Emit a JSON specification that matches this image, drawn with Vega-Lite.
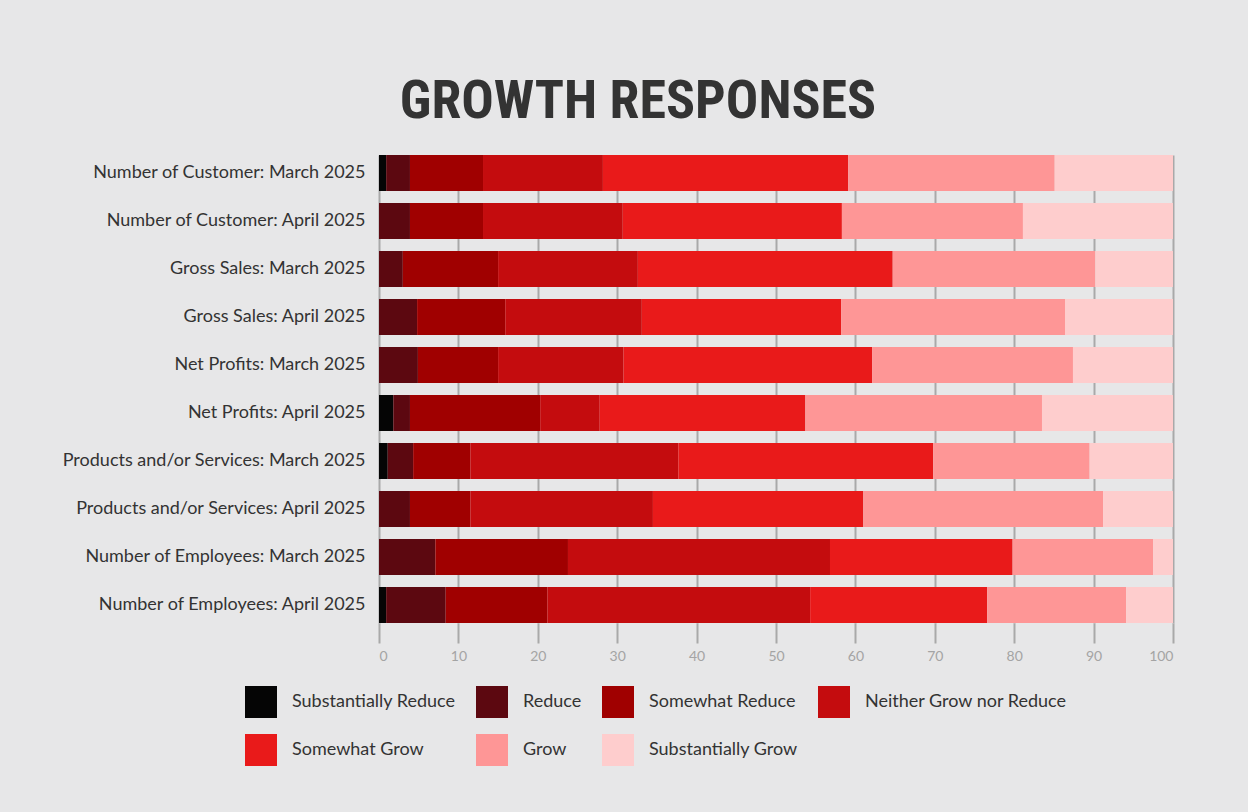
{
  "$schema": "https://vega.github.io/schema/vega-lite/v6.json",
  "autosize": {"type": "none"},
  "width": 794,
  "height": 468,
  "padding": {"left": 379, "top": 155, "right": 75, "bottom": 189},
  "background": "#e7e7e8",
  "title": {
    "text": "GROWTH RESPONSES",
    "font": "Roboto Condensed, DejaVu Sans Condensed",
    "fontWeight": "bold",
    "fontSize": 54,
    "color": "#333333",
    "anchor": "middle",
    "dx": -138,
    "dy": 47,
    "baseline": "alphabetic",
    "offset": 30
  },
  "config": {
    "view": {"stroke": null},
    "font": "Lato"
  },
  "data": {
    "values": [
      {"q": "Number of Customer: March 2025", "Substantially Reduce": 0.9, "Reduce": 3.0, "Somewhat Reduce": 9.2, "Neither Grow nor Reduce": 15.1, "Somewhat Grow": 30.9, "Grow": 26.0, "Substantially Grow": 14.9},
      {"q": "Number of Customer: April 2025", "Substantially Reduce": 0, "Reduce": 3.9, "Somewhat Reduce": 9.2, "Neither Grow nor Reduce": 17.6, "Somewhat Grow": 27.6, "Grow": 22.8, "Substantially Grow": 18.9},
      {"q": "Gross Sales: March 2025", "Substantially Reduce": 0, "Reduce": 3.0, "Somewhat Reduce": 12.0, "Neither Grow nor Reduce": 17.6, "Somewhat Grow": 32.1, "Grow": 25.5, "Substantially Grow": 9.8},
      {"q": "Gross Sales: April 2025", "Substantially Reduce": 0, "Reduce": 4.8, "Somewhat Reduce": 11.1, "Neither Grow nor Reduce": 17.2, "Somewhat Grow": 25.1, "Grow": 28.2, "Substantially Grow": 13.6},
      {"q": "Net Profits: March 2025", "Substantially Reduce": 0, "Reduce": 4.9, "Somewhat Reduce": 10.1, "Neither Grow nor Reduce": 15.8, "Somewhat Grow": 31.3, "Grow": 25.3, "Substantially Grow": 12.6},
      {"q": "Net Profits: April 2025", "Substantially Reduce": 1.8, "Reduce": 2.1, "Somewhat Reduce": 16.4, "Neither Grow nor Reduce": 7.5, "Somewhat Grow": 25.9, "Grow": 29.8, "Substantially Grow": 16.5},
      {"q": "Products and/or Services: March 2025", "Substantially Reduce": 1.1, "Reduce": 3.2, "Somewhat Reduce": 7.2, "Neither Grow nor Reduce": 26.2, "Somewhat Grow": 32.1, "Grow": 19.7, "Substantially Grow": 10.5},
      {"q": "Products and/or Services: April 2025", "Substantially Reduce": 0, "Reduce": 3.9, "Somewhat Reduce": 7.6, "Neither Grow nor Reduce": 23.0, "Somewhat Grow": 26.5, "Grow": 30.2, "Substantially Grow": 8.8},
      {"q": "Number of Employees: March 2025", "Substantially Reduce": 0, "Reduce": 7.1, "Somewhat Reduce": 16.7, "Neither Grow nor Reduce": 33.0, "Somewhat Grow": 23.0, "Grow": 17.7, "Substantially Grow": 2.5},
      {"q": "Number of Employees: April 2025", "Substantially Reduce": 0.9, "Reduce": 7.5, "Somewhat Reduce": 12.8, "Neither Grow nor Reduce": 33.1, "Somewhat Grow": 22.3, "Grow": 17.5, "Substantially Grow": 5.9}
    ]
  },
  "transform": [
    {"fold": ["Substantially Reduce", "Reduce", "Somewhat Reduce", "Neither Grow nor Reduce", "Somewhat Grow", "Grow", "Substantially Grow"], "as": ["cat", "v"]},
    {
      "lookup": "cat",
      "from": {
        "data": {"values": [
          {"cat": "Substantially Reduce", "rank": 1},
          {"cat": "Reduce", "rank": 2},
          {"cat": "Somewhat Reduce", "rank": 3},
          {"cat": "Neither Grow nor Reduce", "rank": 4},
          {"cat": "Somewhat Grow", "rank": 5},
          {"cat": "Grow", "rank": 6},
          {"cat": "Substantially Grow", "rank": 7}
        ]},
        "key": "cat",
        "fields": ["rank"]
      }
    }
  ],
  "mark": {"type": "bar"},
  "encoding": {
    "y": {
      "field": "q",
      "type": "nominal",
      "sort": null,
      "title": null,
      "scale": {"paddingInner": 0.25, "paddingOuter": 0},
      "axis": {"ticks": false, "domain": false, "labelFontSize": 18, "labelColor": "#333333", "labelPadding": 14, "labelFont": "Lato", "labelLimit": 400}
    },
    "x": {
      "field": "v",
      "type": "quantitative",
      "stack": "zero",
      "title": null,
      "scale": {"domain": [0, 100], "nice": false},
      "axis": {
        "values": [0, 10, 20, 30, 40, 50, 60, 70, 80, 90, 100],
        "domain": false,
        "grid": true,
        "gridColor": "#a9a9a9",
        "gridWidth": 2,
        "tickColor": "#a9a9a9",
        "tickWidth": 2,
        "tickSize": 20,
        "labelColor": "#a4a4a4",
        "labelFontSize": 14,
        "labelPadding": 6,
        "labelFont": "Lato"
      }
    },
    "order": {"field": "rank", "type": "quantitative", "sort": "ascending"},
    "color": {
      "field": "cat",
      "type": "nominal",
      "sort": ["Substantially Reduce", "Reduce", "Somewhat Reduce", "Neither Grow nor Reduce", "Somewhat Grow", "Grow", "Substantially Grow"],
      "scale": {
        "domain": ["Substantially Reduce", "Reduce", "Somewhat Reduce", "Neither Grow nor Reduce", "Somewhat Grow", "Grow", "Substantially Grow"],
        "range": ["#050505", "#5c0810", "#a00000", "#c40c0e", "#e91a1a", "#fe9696", "#fecdcd"]
      },
      "legend": {
        "title": null,
        "orient": "none",
        "direction": "horizontal",
        "legendX": -134,
        "legendY": 531,
        "columns": 4,
        "symbolType": "square",
        "symbolSize": 1024,
        "symbolStrokeWidth": 0,
        "labelFontSize": 18,
        "labelColor": "#333333",
        "labelFont": "Lato",
        "labelLimit": 400,
        "labelOffset": 15,
        "rowPadding": 16,
        "columnPadding": 20
      }
    }
  }
}
